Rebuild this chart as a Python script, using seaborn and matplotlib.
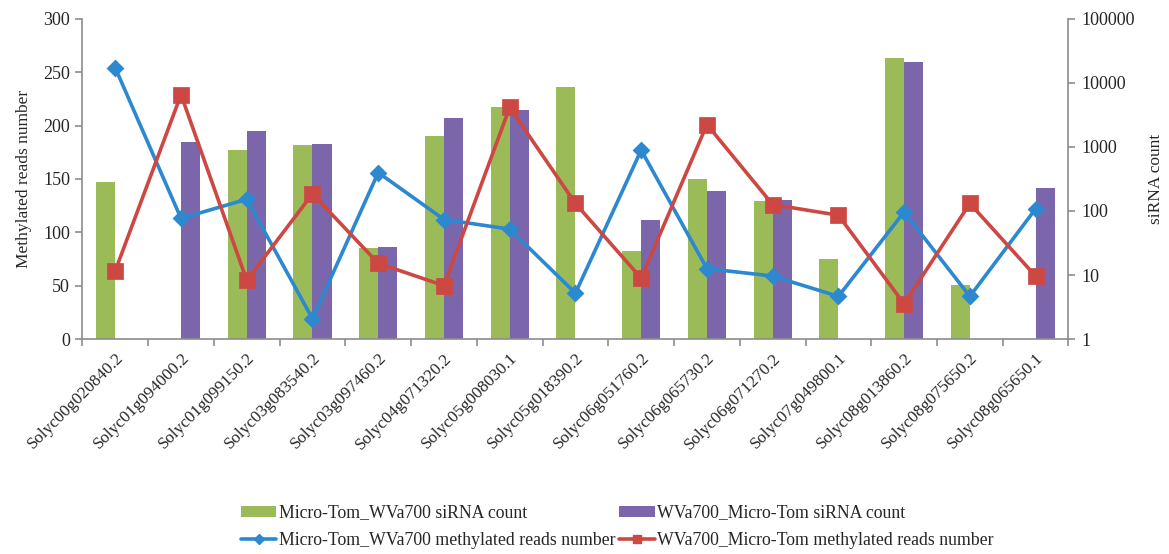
import numpy as np
import pandas as pd
import matplotlib
matplotlib.use("Agg")
import matplotlib.pyplot as plt
from matplotlib.patches import Patch
from matplotlib.lines import Line2D
from matplotlib.ticker import FixedLocator, FixedFormatter, NullLocator
import seaborn as sns

genes = ["Solyc00g020840.2", "Solyc01g094000.2", "Solyc01g099150.2", "Solyc03g083540.2",
         "Solyc03g097460.2", "Solyc04g071320.2", "Solyc05g008030.1", "Solyc05g018390.2",
         "Solyc06g051760.2", "Solyc06g065730.2", "Solyc06g071270.2", "Solyc07g049800.1",
         "Solyc08g013860.2", "Solyc08g075650.2", "Solyc08g065650.1"]

# siRNA counts (right, log axis); NaN = no bar
mt_sirna = [284, np.nan, 890, 1065, 26, 1500, 4200, 8700, 24, 310, 141, 18, 24200, 7, np.nan]
wv_sirna = [np.nan, 1200, 1760, 1100, 27, 2790, 3760, np.nan, 73, 203, 147, np.nan, 21500, np.nan, 226]

# methylated reads number (left axis)
mt_meth = [254, 113, 131, 19, 156, 112, 103, 43, 177, 66, 59, 40, 119, 40, 122]
wv_meth = [64, 229, 55, 136, 71, 50, 217, 127, 57, 201, 126, 116, 33, 127, 59]

bar_names = ["Micro-Tom_WVa700 siRNA count", "WVa700_Micro-Tom siRNA count"]
line_names = ["Micro-Tom_WVa700 methylated reads number", "WVa700_Micro-Tom methylated reads number"]
left_ticks = [0, 50, 100, 150, 200, 250, 300]
right_ticks = [1, 10, 100, 1000, 10000, 100000]
right_labels = ["1", "10", "100", "1000", "10000", "100000"]

green, purple = "#9BBB59", "#7B66AB"
blue, red = "#2C88CF", "#CD4743"
axis_col = "#8C8C8C"

sns.set_theme(style="white")
plt.rcParams["font.family"] = ["Liberation Serif", "DejaVu Serif"]
plt.rcParams["font.size"] = 12.5

bars = pd.DataFrame({
    "gene": genes * 2,
    "series": [bar_names[0]] * len(genes) + [bar_names[1]] * len(genes),
    "value": list(mt_sirna) + list(wv_sirna),
}).dropna()
lines = pd.DataFrame({
    "gene": genes * 2,
    "series": [line_names[0]] * len(genes) + [line_names[1]] * len(genes),
    "value": list(mt_meth) + list(wv_meth),
})

fig = plt.figure(figsize=(11.69, 5.54), dpi=100)
ax1 = fig.add_axes([0.0705, 0.388, 0.8435, 0.578])
ax2 = ax1.twinx()

# bars on right log axis
ax2.set_yscale("log")
sns.barplot(data=bars, x="gene", y="value", hue="series", order=genes, hue_order=bar_names,
            palette=[green, purple], width=0.58, errorbar=None, legend=False,
            saturation=1, linewidth=0, ax=ax2)
ax2.set_ylim(1, 100000)
ax2.yaxis.set_major_locator(FixedLocator(right_ticks))
ax2.yaxis.set_major_formatter(FixedFormatter(right_labels))
ax2.yaxis.set_minor_locator(NullLocator())

# lines on left axis, drawn over bars
ax1.set_zorder(ax2.get_zorder() + 1)
ax1.patch.set_visible(False)
sns.pointplot(data=lines, x="gene", y="value", hue="series", order=genes, hue_order=line_names,
              palette=[blue, red], markers=["D", "s"], linestyles=["-", "-"], errorbar=None,
              legend=False, ax=ax1, linewidth=2.6, markersize=8.5)
for l, ms in zip(ax1.lines, [7.5, 10]):
    l.set_markersize(ms)
ax1.set_ylim(0, 300)
ax1.set_yticks(left_ticks)
ax1.set_xlim(-0.5, len(genes) - 0.5)
ax2.set_xlim(-0.5, len(genes) - 0.5)

# axes styling
for ax in (ax1, ax2):
    for s in ax.spines.values():
        s.set_visible(False)
    ax.set_xlabel("")
ax1.spines["left"].set_visible(True)
ax1.spines["bottom"].set_visible(True)
ax2.spines["right"].set_visible(True)
for s in (ax1.spines["left"], ax1.spines["bottom"], ax2.spines["right"]):
    s.set_color(axis_col)
    s.set_linewidth(1.2)

ax1.set_ylabel("Methylated reads number", fontsize=12.5, labelpad=8)
ax2.set_ylabel("siRNA count", fontsize=12.5, labelpad=10)

ax1.tick_params(axis="y", which="major", left=True, length=5, width=1.2, color=axis_col,
                labelsize=13, pad=4)
ax2.tick_params(axis="y", which="major", right=True, length=5, width=1.2, color=axis_col,
                labelsize=13, pad=4)
ax2.tick_params(axis="x", bottom=False, labelbottom=False)

ax1.set_xticks(range(len(genes)))
ax1.set_xticklabels(genes, rotation=45, ha="right", rotation_mode="anchor", fontsize=12.3)
ax1.set_xticks(np.arange(-0.5, len(genes) + 0.5, 1), minor=True)
ax1.tick_params(axis="x", which="major", length=0, pad=8)
ax1.tick_params(axis="x", which="minor", bottom=True, length=5, width=1.2, color=axis_col)
ax1.grid(False)
ax2.grid(False)

handles = [
    Patch(facecolor=green, edgecolor="none"),
    Line2D([], [], color=blue, lw=2.6, marker="D", markersize=5),
    Patch(facecolor=purple, edgecolor="none"),
    Line2D([], [], color=red, lw=2.6, marker="s", markersize=6),
]
labels = [bar_names[0], line_names[0], bar_names[1], line_names[1]]
fig.legend(handles, labels, ncol=2, loc="lower center", bbox_to_anchor=(0.528, -0.02),
           frameon=False, fontsize=12.8, handlelength=2.0, handleheight=0.6,
           handletextpad=0.15, columnspacing=0.2, labelspacing=0.6)

fig.savefig("out.png", dpi=100)
